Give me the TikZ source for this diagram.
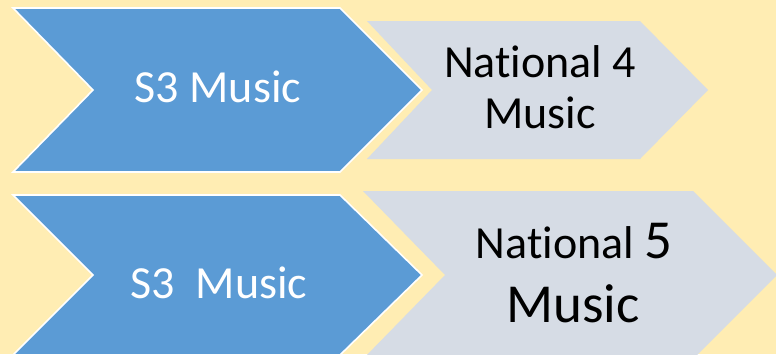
\documentclass[tikz,border=0pt]{standalone}
\usepackage{fontspec}
\setmainfont{Carlito}[Ligatures={NoCommon}]

\definecolor{bgyellow}{HTML}{FFEDB3}
\definecolor{stageblue}{HTML}{5B9BD5}
\definecolor{stagegrey}{HTML}{D6DCE5}

\tikzset{
  bluechev/.style={fill=stageblue, draw=white, line width=1.6pt, line join=miter},
  greychev/.style={fill=stagegrey},
  chevtext/.style={inner sep=0pt, anchor=base, font=\fontsize{46}{55}\selectfont},
  bigtext/.style={chevtext, font=\fontsize{55}{66}\selectfont}
}

\begin{document}
\begin{tikzpicture}[x=1pt, y=-1pt]

    % 1. Background and frame
    \fill[bgyellow] (0,0) rectangle (776,354);
    \useasboundingbox (0,0) rectangle (776,354);
    \clip (0,0) rectangle (776,354);

    % 2. Grey chevrons (drawn first)
    \fill[greychev] (367,21) -- (640,21) -- (708,90) -- (640,159) -- (367,159) -- (432,90) -- cycle;
    \fill[greychev] (363,191) -- (693,191) -- (777,275) -- (693,359) -- (363,359) -- (445,275) -- cycle;

    % 3. Blue chevrons with white outline
    \draw[bluechev] (13,8) -- (340,8) -- (422,90) -- (340,172) -- (13,172) -- (93,90) -- cycle;
    \draw[bluechev] (13,195) -- (340,195) -- (422,275) -- (340,355) -- (13,355) -- (93,275) -- cycle;

    % 4. Labels
    \node[chevtext, white] (sthreetop) at (218,102) {S3 Music};
    \node[chevtext] (natfourA) at (540,77) {National 4};
    \node[chevtext] (natfourB) at (540,128) {Music};

    \node[chevtext, white] (sthreebot) at (219,298) {S3\ \ Music};
    \node[chevtext] (natfiveA) at (574,258) {National {\fontsize{55}{66}\selectfont 5}};
    \node[bigtext] (natfiveB) at (573,322) {Music};

\end{tikzpicture}
\end{document}
